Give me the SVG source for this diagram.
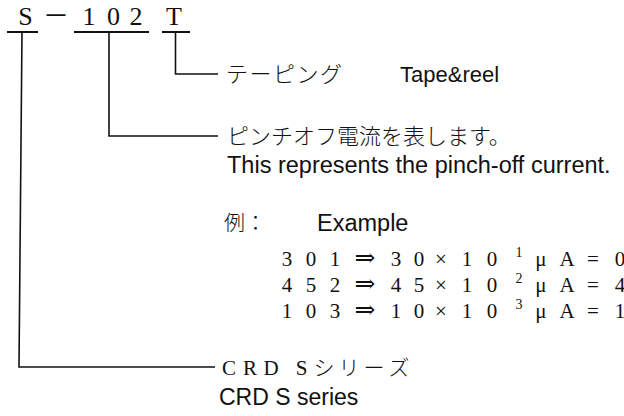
<svg xmlns="http://www.w3.org/2000/svg" width="624" height="416" viewBox="0 0 624 416">
<style>
.ln{fill:none;stroke:#111;stroke-width:1.6}
.ul{fill:none;stroke:#111;stroke-width:2.2}
.mc{font-family:"Liberation Serif","DejaVu Serif","Noto Sans CJK JP",serif;fill:#111}
.jp{font-family:"Noto Sans CJK JP","Noto Sans CJK SC",sans-serif;fill:#111;font-weight:300}
.en{font-family:"Liberation Sans",Arial,sans-serif;fill:#111}
</style>
<rect width="624" height="416" fill="#fff"/>
<g id="code">
<text class="mc" font-size="26" y="25" text-anchor="middle"><tspan x="25.5 56 89 113.5 136 174">S－102T</tspan></text>
</g>
<g id="connectors">
<path class="ul" d="M7,32H38 M74,32H149 M162,32H190"/>
<path class="ln" d="M22,32L19,367H215"/>
<path class="ln" d="M109,32V136H218"/>
<path class="ln" d="M175.5,32V74H218"/>
</g>
<g id="taping">
<text class="jp" font-size="22" x="226" y="82" letter-spacing="1.5">テーピング</text>
<text class="en" font-size="22" x="400" y="82">Tape&amp;reel</text>
</g>
<g id="pinchoff">
<text class="jp" font-size="22" x="227" y="144">ピンチオフ電流を表します。</text>
<text class="en" font-size="23.5" x="227" y="173">This represents the pinch-off current.</text>
<text class="jp" font-size="21" x="224" y="230">例：</text>
<text class="en" font-size="23.5" x="317" y="231">Example</text>
<text class="mc" font-size="21" y="266" text-anchor="middle"><tspan x="287 311 335">301</tspan><tspan x="365" font-size="25">⇒</tspan><tspan x="396 419 441 467 492">30×10</tspan><tspan x="519" dy="-9" font-size="14">1</tspan><tspan x="541 567 593 620" dy="9">μA=0</tspan></text>
<text class="mc" font-size="21" y="292" text-anchor="middle"><tspan x="287 311 335">452</tspan><tspan x="365" font-size="25">⇒</tspan><tspan x="396 419 441 467 492">45×10</tspan><tspan x="519" dy="-9" font-size="14">2</tspan><tspan x="541 567 593 620" dy="9">μA=4</tspan></text>
<text class="mc" font-size="21" y="318" text-anchor="middle"><tspan x="287 311 335">103</tspan><tspan x="365" font-size="25">⇒</tspan><tspan x="396 419 441 467 492">10×10</tspan><tspan x="519" dy="-9" font-size="14">3</tspan><tspan x="541 567 593 620" dy="9">μA=1</tspan></text>
</g>
<g id="series">
<text class="mc" font-size="21" y="375" text-anchor="middle"><tspan x="229 250 271">CRD</tspan><tspan x="299"> S</tspan><tspan class="jp" x="324 349 374 399">シリーズ</tspan></text>
<text class="en" font-size="23" x="219" y="405">CRD S series</text>
</g>
</svg>
